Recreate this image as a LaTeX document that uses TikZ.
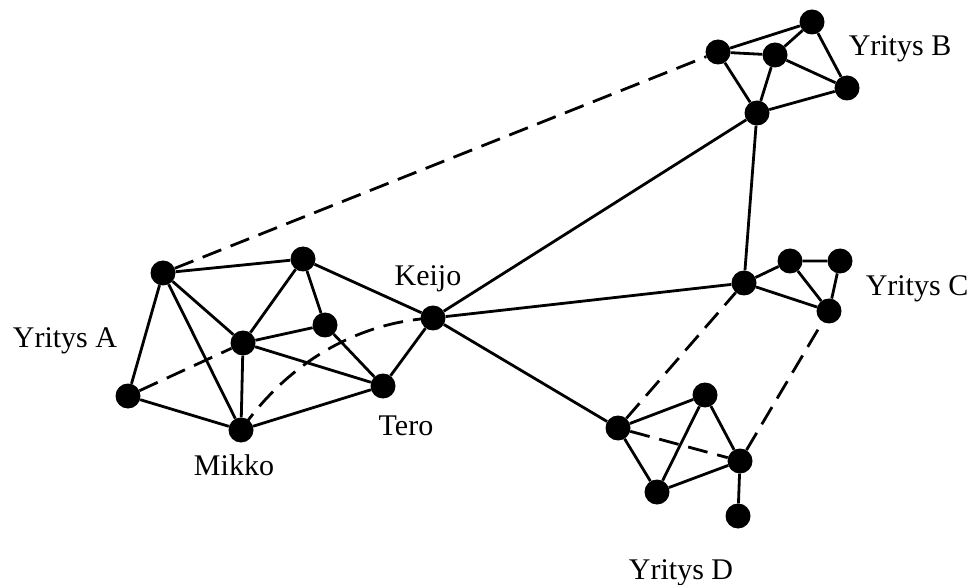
\documentclass[tikz,border=0pt]{standalone}
\usepackage{fontspec}
\setmainfont{Liberation Serif}
\begin{document}
\begin{tikzpicture}[x=1pt,y=-1pt,
  person/.style={circle,fill=black,inner sep=0pt,minimum size=25pt},
  tie/.style={line width=2.8pt},
  weak/.style={line width=2.8pt,dash pattern=on 20pt off 10pt},
  lbl/.style={font=\fontsize{30}{34}\selectfont,inner sep=0pt,anchor=base}]
\useasboundingbox (0,0) rectangle (972,585);

% company A
\node[person] (a1) at (163,273) {};
\node[person] (a2) at (303,259) {};
\node[person] (a3) at (243,343) {};
\node[person] (a4) at (325,325) {};
\node[person] (a5) at (128,396) {};
\node[person] (mikko) at (241,430) {};
\node[person] (tero) at (383,386) {};
\node[person] (keijo) at (433,318) {};

% company B
\node[person] (b1) at (718,52) {};
\node[person] (b2) at (775,55) {};
\node[person] (b3) at (812,22) {};
\node[person] (b4) at (847,88) {};
\node[person] (b5) at (757,113) {};

% company C
\node[person] (c1) at (744,283) {};
\node[person] (c2) at (790,261) {};
\node[person] (c3) at (840,261) {};
\node[person] (c4) at (829,311) {};

% company D
\node[person] (d1) at (618,428) {};
\node[person] (d2) at (705,395) {};
\node[person] (d3) at (740,461) {};
\node[person] (d4) at (657,492) {};
\node[person] (d5) at (738,516) {};

% strong ties
\draw[tie] (a1)--(a2) (a1)--(a5) (a1)--(a3) (a1)--(mikko)
  (a2)--(a3) (a2)--(a4) (a2)--(keijo) (a3)--(a4) (a3)--(tero)
  (a3)--(mikko) (a4)--(tero) (a5)--(mikko) (mikko)--(tero) (tero)--(keijo);
\draw[tie] (b1)--(b3) (b1)--(b2) (b2)--(b3) (b2)--(b4) (b3)--(b4)
  (b1)--(b5) (b2)--(b5) (b5)--(b4);
\draw[tie] (c1)--(c2) (c2)--(c3) (c2)--(c4) (c3)--(c4) (c1)--(c4);
\draw[tie] (d1)--(d2) (d1)--(d4) (d2)--(d4) (d2)--(d3) (d4)--(d3) (d3)--(d5);
\draw[tie] (keijo)--(b5) (keijo)--(c1) (keijo)--(d1) (b5)--(c1);

% weak ties
\draw[weak] (a5)--(a3);
\draw[weak] (mikko.center) .. controls (290,360) and (360,322) .. (keijo.center);
\draw[weak] (a1)--(b1);
\draw[weak] (d1)--(d3) (d1)--(c1) (d3)--(c4);

% labels
\node[lbl] (la) at (65,348) {Yritys A};
\node[lbl] (lm) at (234,475) {Mikko};
\node[lbl] (lt) at (406,435) {Tero};
\node[lbl] (lk) at (428,286) {Keijo};
\node[lbl] (lb) at (900,56) {Yritys B};
\node[lbl] (lc) at (917,296) {Yritys C};
\node[lbl] (ld) at (681,579) {Yritys D};
\end{tikzpicture}
\end{document}
